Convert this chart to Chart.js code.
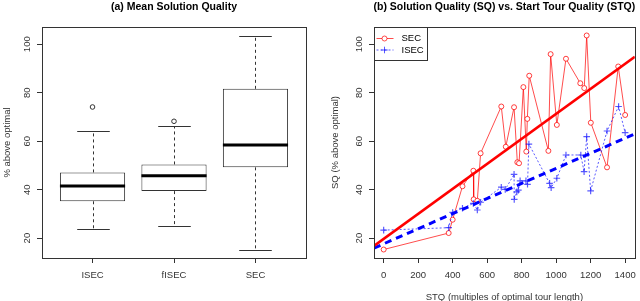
<!DOCTYPE html>
<html>
<head>
<meta charset="utf-8">
<script src="https://cdn.jsdelivr.net/npm/chart.js@4.4.1/dist/chart.umd.min.js"></script>
<style>
  html, body { margin: 0; padding: 0; background: #fff; overflow: hidden; }
  #wrap { position: relative; width: 640px; height: 301px; overflow: hidden; }
  canvas { position: absolute; top: 0; }
</style>
</head>
<body>
<div id="wrap">
  <canvas id="boxChart" width="320" height="306" style="left:0"></canvas>
  <canvas id="sqChart" width="320" height="306" style="left:320px"></canvas>
</div>
<script>
// (a) boxplot numbers
const groups = ['ISEC', 'fISEC', 'SEC'];
const whiskerLow = [23.6, 25.0, 15.3];
const q1 = [35.2, 39.4, 49.2];
const medians = [41.5, 45.7, 58.4];
const q3 = [47.1, 50.4, 81.6];
const whiskerHigh = [64.3, 66.4, 103.5];
const outliers = [[74.1], [68.2], []];
const yTicks = [20, 40, 60, 80, 100];

// (b) SQ vs STQ
const secStq = [0, 377, 400, 457, 520, 522, 543, 562, 682, 708, 756, 775, 785, 810, 827, 833, 844, 955, 968, 1004, 1057, 1140, 1163, 1177, 1201, 1295, 1360, 1400];
const secSq = [15.3, 22.1, 27.6, 41.4, 47.8, 36.0, 35.4, 55.0, 74.3, 57.7, 74.0, 51.3, 50.9, 82.3, 55.7, 69.2, 87.0, 56.0, 95.9, 66.7, 94.0, 83.9, 81.9, 103.6, 67.6, 49.2, 90.8, 70.8];
const isecStq = [0, 377, 400, 457, 520, 543, 562, 682, 705, 756, 757, 772, 781, 791, 825, 834, 842, 962, 971, 1004, 1057, 1143, 1162, 1177, 1200, 1295, 1362, 1400];
const isecSq = [23.3, 24.3, 30.6, 32.3, 34.3, 31.6, 34.8, 41.0, 40.1, 46.3, 36.0, 39.1, 39.8, 43.6, 43.6, 42.2, 58.8, 42.6, 40.8, 44.7, 54.3, 54.3, 47.4, 61.9, 39.5, 64.2, 74.3, 63.5];
const fitStq = [-56, 1456];
const secFit = [16.8, 94.8];
const isecFit = [15.9, 63.0];
const stqTicks = [0, 200, 400, 600, 800, 1000, 1200, 1400];
const legendLabels = ['SEC', 'ISEC'];

const font = '"Liberation Sans", Arial, Helvetica, sans-serif';
Chart.defaults.font.family = font;
Chart.defaults.font.size = 9.5;
Chart.defaults.color = '#333';

// box round the plot + title over the plot area
const rFrame = {
  id: 'rFrame',
  afterDraw(chart, args, opts) {
    const { ctx, chartArea: a } = chart;
    ctx.save();
    ctx.strokeStyle = '#333';
    ctx.lineWidth = 1;
    const l = Math.round(a.left) + 0.5, t = Math.round(a.top) + 0.5;
    ctx.strokeRect(l, t, Math.round(a.right) - Math.round(a.left), Math.round(a.bottom) - Math.round(a.top));
    ctx.fillStyle = '#000';
    ctx.font = 'bold 10.5px ' + font;
    ctx.textAlign = 'center';
    ctx.textBaseline = 'middle';
    ctx.fillText(opts.title, (a.left + a.right) / 2, 7);
    ctx.restore();
  }
};

function seg(ctx, x1, y1, x2, y2) {
  ctx.beginPath();
  ctx.moveTo(x1, y1);
  ctx.lineTo(x2, y2);
  ctx.stroke();
}

// whiskers, staples and medians on top of the floating bars
const boxParts = {
  id: 'boxParts',
  afterDatasetsDraw(chart) {
    const { ctx } = chart;
    const y = chart.scales.y;
    const meta = chart.getDatasetMeta(0);
    ctx.save();
    meta.data.forEach((bar, i) => {
      const x = Math.round(bar.x) + 0.5, w = bar.width;
      const yHi = Math.round(y.getPixelForValue(whiskerHigh[i])) + 0.5;
      const yLo = Math.round(y.getPixelForValue(whiskerLow[i])) + 0.5;
      ctx.strokeStyle = '#333';
      ctx.lineWidth = 1;
      ctx.setLineDash([3, 3]);
      seg(ctx, x, y.getPixelForValue(q3[i]), x, yHi);
      seg(ctx, x, y.getPixelForValue(q1[i]), x, yLo);
      ctx.setLineDash([]);
      seg(ctx, x - w / 4, yHi, x + w / 4, yHi);
      seg(ctx, x - w / 4, yLo, x + w / 4, yLo);
      ctx.strokeStyle = '#000';
      ctx.lineWidth = 3;
      const ym = y.getPixelForValue(medians[i]);
      seg(ctx, bar.x - w / 2, ym, bar.x + w / 2, ym);
    });
    ctx.restore();
  }
};

// legend in the top left corner of plot (b)
const cornerLegend = {
  id: 'cornerLegend',
  afterDraw(chart) {
    const { ctx, chartArea: a } = chart;
    const l = Math.round(a.left) + 0.5, t = Math.round(a.top) + 0.5;
    ctx.save();
    ctx.fillStyle = '#fff';
    ctx.fillRect(l, t, 53, 33);
    ctx.strokeStyle = '#333';
    ctx.lineWidth = 1;
    ctx.strokeRect(l, t, 53, 33);
    legendLabels.forEach((name, i) => {
      const d = chart.data.datasets.find(ds => ds.label === name);
      const yy = t + 11 + i * 11.5;
      ctx.strokeStyle = d.borderColor;
      ctx.lineWidth = 1;
      ctx.setLineDash(d.borderDash || []);
      seg(ctx, l + 2, yy, l + 19, yy);
      ctx.setLineDash([]);
      ctx.fillStyle = '#fff';
      Chart.helpers.drawPoint(ctx, { pointStyle: d.pointStyle, radius: d.pointRadius, rotation: 0, borderWidth: 1 }, l + 10, yy);
      ctx.fillStyle = '#000';
      ctx.font = '9.5px ' + font;
      ctx.textAlign = 'left';
      ctx.textBaseline = 'middle';
      ctx.fillText(name, l + 27, yy);
    });
    ctx.restore();
  }
};

const tickGrid = { drawOnChartArea: false, drawTicks: true, tickLength: 5, color: '#333', offset: false };

function yAxis(width, tickPad, titleText, titlePad) {
  return {
    min: 11.8,
    max: 107.1,
    afterBuildTicks: s => { s.ticks = yTicks.map(v => ({ value: v })); },
    afterFit: s => { s.width = width; s.paddingTop = 0; s.paddingBottom = 0; },
    grid: tickGrid,
    border: { display: false },
    ticks: { minRotation: 90, maxRotation: 90, crossAlign: 'center', padding: tickPad, color: '#333', callback: v => String(v) },
    title: { display: true, text: titleText, color: '#333', padding: { top: titlePad, bottom: 0 } }
  };
}

// (a) Mean Solution Quality
const outlierPts = outliers.flatMap((arr, i) => arr.map(v => ({ x: i + 1, y: v })));

new Chart(document.getElementById('boxChart'), {
  type: 'bar',
  data: {
    datasets: [
      {
        label: 'box',
        data: groups.map((g, i) => ({ x: i + 1, y: [q1[i], q3[i]] })),
        backgroundColor: '#fff',
        borderColor: '#333',
        borderWidth: 1,
        borderSkipped: false,
        barPercentage: 0.8,
        categoryPercentage: 1
      },
      {
        type: 'scatter',
        label: 'outliers',
        data: outlierPts,
        pointStyle: 'circle',
        pointRadius: 2.3,
        borderColor: '#333',
        backgroundColor: 'rgba(0,0,0,0)',
        borderWidth: 1
      }
    ]
  },
  options: {
    responsive: false,
    animation: false,
    events: [],
    layout: { padding: { top: 27, right: 14, left: 0, bottom: 0 } },
    plugins: { legend: { display: false }, tooltip: { enabled: false }, rFrame: { title: '(a) Mean Solution Quality' } },
    scales: {
      x: {
        type: 'linear',
        offset: false,
        min: 0.38,
        max: 3.62,
        afterBuildTicks: s => { s.ticks = groups.map((g, i) => ({ value: i + 1 })); },
        afterFit: s => { s.height = 48; s.paddingLeft = 0; s.paddingRight = 0; },
        grid: tickGrid,
        border: { display: false },
        ticks: { padding: 7, color: '#333', callback: (v, i) => groups[i] }
      },
      y: yAxis(42, 1.8, '% above optimal', 1.3)
    }
  },
  plugins: [boxParts, rFrame]
});

// (b) Solution Quality vs Start Tour Quality
const pts = (xs, ys) => xs.map((x, i) => ({ x, y: ys[i] }));

new Chart(document.getElementById('sqChart'), {
  type: 'scatter',
  data: {
    datasets: [
      { label: 'SEC fit', data: pts(fitStq, secFit), showLine: true, borderColor: '#ff0000', borderWidth: 2.5, pointRadius: 0, order: 0 },
      { label: 'ISEC fit', data: pts(fitStq, isecFit), showLine: true, borderColor: '#0000ff', borderWidth: 3, borderDash: [7, 5], pointRadius: 0, order: 0 },
      {
        label: 'SEC', data: pts(secStq, secSq), showLine: true,
        borderColor: 'rgba(255,0,0,0.7)', borderWidth: 1,
        pointStyle: 'circle', pointRadius: 2.5, pointBorderWidth: 1,
        pointBorderColor: 'rgba(255,0,0,0.75)', pointBackgroundColor: '#fff', order: 2
      },
      {
        label: 'ISEC', data: pts(isecStq, isecSq), showLine: true,
        borderColor: 'rgba(0,0,255,0.65)', borderWidth: 1, borderDash: [2, 2],
        pointStyle: 'cross', pointRadius: 3.3, pointBorderWidth: 1.2,
        pointBorderColor: 'rgba(0,0,255,0.65)', order: 1
      }
    ]
  },
  options: {
    responsive: false,
    animation: false,
    events: [],
    layout: { padding: { top: 27, right: 2, left: 0, bottom: 0 } },
    plugins: { legend: { display: false }, tooltip: { enabled: false }, rFrame: { title: '(b) Solution Quality (SQ) vs. Start Tour Quality (STQ)' } },
    scales: {
      x: {
        type: 'linear',
        min: -56,
        max: 1456,
        afterBuildTicks: s => { s.ticks = stqTicks.map(v => ({ value: v })); },
        afterFit: s => { s.height = 48; s.paddingLeft = 0; s.paddingRight = 0; },
        grid: tickGrid,
        border: { display: false },
        ticks: { padding: 7, color: '#333', callback: v => String(v) },
        title: { display: true, text: 'STQ (multiples of optimal tour length)', color: '#333', padding: { top: 0, bottom: 3 } }
      },
      y: yAxis(54, 1.4, 'SQ (% above optimal)', 9.3)
    }
  },
  plugins: [rFrame, cornerLegend]
});
</script>
</body>
</html>
